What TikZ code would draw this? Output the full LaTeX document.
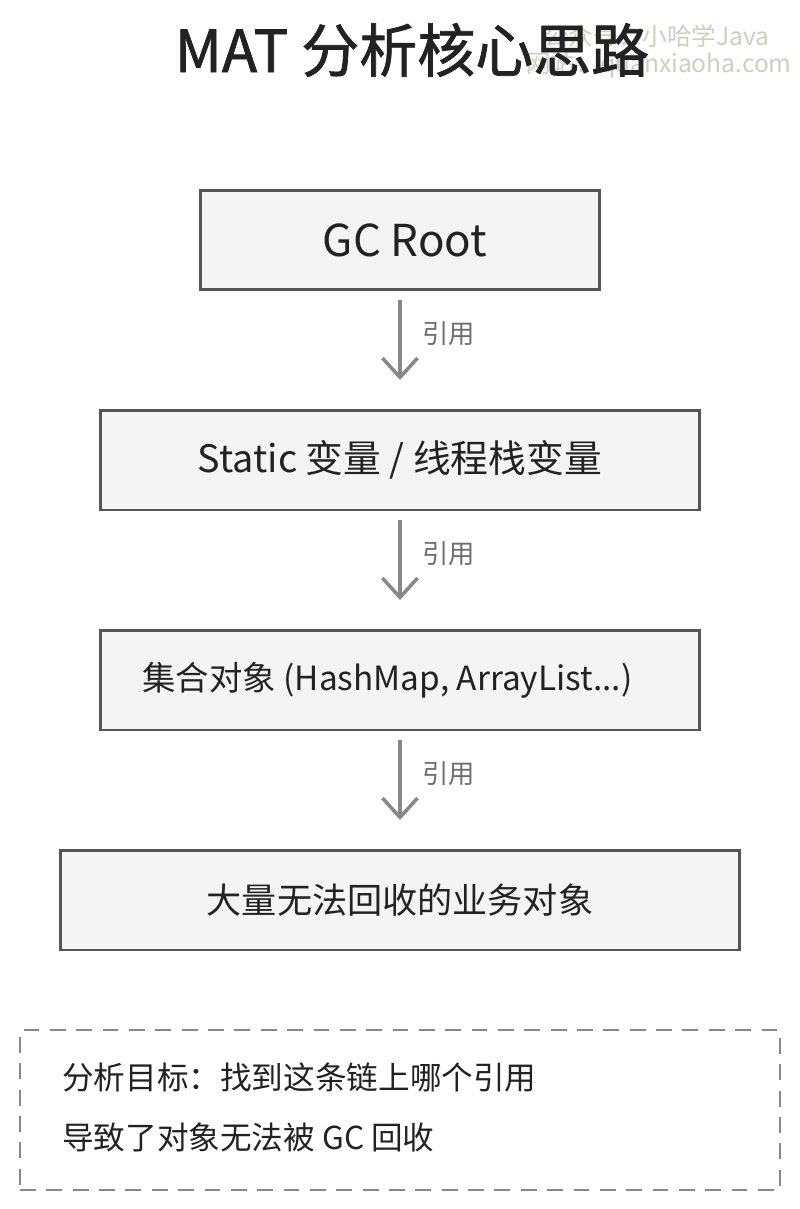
\documentclass[tikz,border=0pt]{standalone}
\usepackage{fontspec}
\setmainfont{Noto Sans CJK SC}
\newfontfamily\wmfont{Noto Sans CJK SC}
\newfontfamily\titlefont[FakeBold=1.3]{Noto Sans CJK SC}
\usetikzlibrary{positioning,arrows.meta}
\definecolor{boxfill}{HTML}{F4F4F4}
\definecolor{boxline}{HTML}{555555}
\definecolor{arrowgray}{HTML}{888888}
\definecolor{labelgray}{HTML}{6E6E6E}
\definecolor{inkgray}{HTML}{222222}
\definecolor{wmcolor}{HTML}{CFCFC0}

\begin{document}
\begin{tikzpicture}[x=0.02cm,y=-0.02cm,
		chainbox/.style={draw=boxline, line width=1.7pt, fill=boxfill, minimum height=2cm, text=inkgray, font=\fontsize{20}{24}\selectfont, inner sep=0pt},
		refarrow/.style={draw=arrowgray, line width=2pt, -{Straight Barb[length=11pt,width=20pt,line width=2pt]}},
		reflabel/.style={text=labelgray, font=\fontsize{15}{18}\selectfont, anchor=west},
		noteline/.style={text=inkgray, font=\fontsize{18}{22}\selectfont, anchor=west}]
				\useasboundingbox[fill=white] (0,0) rectangle (800,1209);
				\node[text=wmcolor, font=\wmfont\fontsize{14}{17}\selectfont, anchor=west] (wmone) at (538,36) {公众号：小哈学Java};
				\node[text=wmcolor, font=\wmfont\fontsize{14}{17}\selectfont, anchor=west] (wmtwo) at (520,65) {网站：quanxiaoha.com};
				\node[text=inkgray, font=\titlefont\fontsize{33}{40}\selectfont] (title) at (412,50) {MAT 分析核心思路};
				\node[chainbox, minimum width=8cm, font=\fontsize{25}{30}\selectfont] (gcroot) at (400,240) {\hspace*{0.2cm}GC Root};
				\node[chainbox, minimum width=12cm, font=\fontsize{21.5}{26}\selectfont] (staticvar) at (400,460) {Static 变量 / 线程栈变量};
				\node[chainbox, minimum width=12cm, font=\fontsize{19}{23}\selectfont] (collection) at (400,680) {\hspace*{-0.5cm}集合对象 (HashMap, ArrayList...)};
				\node[chainbox, minimum width=13.6cm] (bizobj) at (400,900) {大量无法回收的业务对象};
				\coordinate (aone) at (400,300);
				\coordinate (atwo) at (400,520);
				\coordinate (athree) at (400,740);
				\draw[refarrow] (gcroot.south |- aone) -- (staticvar.north |- 0,380);
				\draw[refarrow] (staticvar.south |- atwo) -- (collection.north |- 0,600);
				\draw[refarrow] (collection.south |- athree) -- (bizobj.north |- 0,820);
				\node[reflabel] (lone) at (416,334) {引用};
				\node[reflabel] (ltwo) at (416,554) {引用};
				\node[reflabel] (lthree) at (416,774) {引用};
				\node[draw=arrowgray, line width=1.2pt, dash pattern=on 9pt off 6pt, minimum width=15.2cm, minimum height=3.2cm, inner sep=0pt] (goal) at (400,1110) {};
				\node[noteline] (goalone) at (56,1077) {分析目标：找到这条链上哪个引用};
				\node[noteline] (goaltwo) at (56,1137) {导致了对象无法被 GC 回收};
				\end{tikzpicture}
\end{document}
